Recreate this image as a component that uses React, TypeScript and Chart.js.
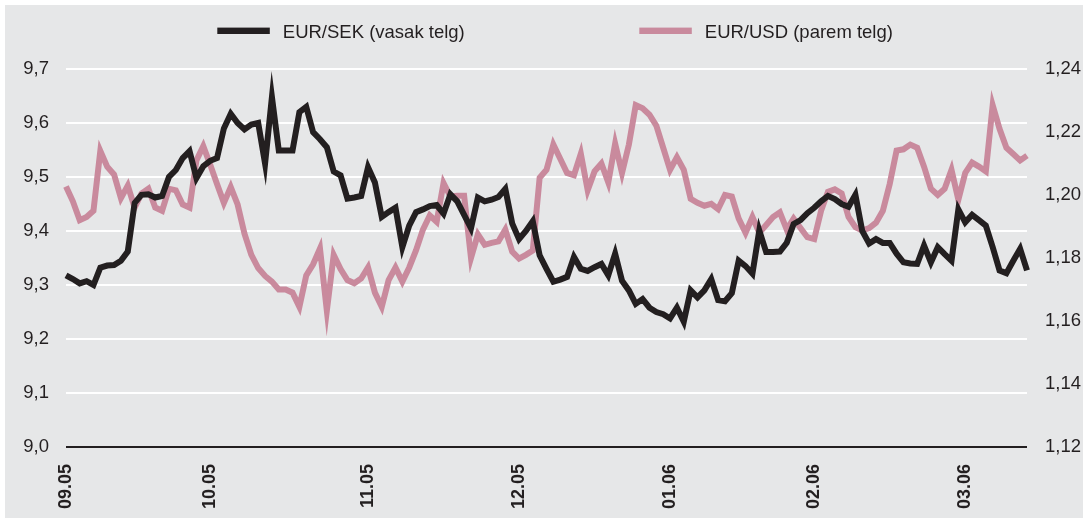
import React, { useEffect, useRef } from 'react';
import { Chart, registerables } from 'chart.js';

Chart.register(...registerables);

// ---- data ----
const monthTicks = ['09.05', '10.05', '11.05', '12.05', '01.06', '02.06', '03.06'];
const monthTickIndex = [0, 21, 44, 66, 88, 109, 131];

const eurSek = [
  9.318, 9.311, 9.303, 9.307, 9.300, 9.332, 9.336, 9.337, 9.345, 9.362,
  9.452, 9.467, 9.468, 9.462, 9.465, 9.500, 9.513, 9.535, 9.548, 9.498,
  9.520, 9.530, 9.535, 9.590, 9.617, 9.600, 9.588, 9.597, 9.600, 9.525,
  9.648, 9.549, 9.549, 9.549, 9.620, 9.630, 9.583, 9.570, 9.555, 9.510,
  9.503, 9.460, 9.462, 9.465, 9.518, 9.490, 9.426, 9.435, 9.443, 9.370,
  9.410, 9.435, 9.440, 9.446, 9.448, 9.432, 9.468, 9.455, 9.430, 9.405,
  9.462, 9.455, 9.458, 9.463, 9.478, 9.414, 9.385, 9.400, 9.418, 9.355,
  9.330, 9.306, 9.310, 9.315, 9.352, 9.330, 9.326, 9.333, 9.339, 9.318,
  9.358, 9.308, 9.290, 9.265, 9.274, 9.258, 9.250, 9.246, 9.238, 9.258,
  9.232, 9.290, 9.277, 9.290, 9.311, 9.272, 9.270, 9.285, 9.345, 9.335,
  9.321, 9.401, 9.361, 9.361, 9.362, 9.378, 9.413, 9.420, 9.433, 9.443,
  9.455, 9.465, 9.459, 9.450, 9.445, 9.467, 9.400, 9.377, 9.385, 9.378,
  9.378, 9.358, 9.342, 9.340, 9.339, 9.373, 9.342, 9.370, 9.357, 9.345,
  9.440, 9.416, 9.430, 9.420, 9.410, 9.370, 9.327, 9.322, 9.345, 9.367,
  9.327,
];

const eurUsd = [
  1.2027, 1.198, 1.192, 1.193, 1.195, 1.214, 1.209, 1.2065, 1.199, 1.203,
  1.196, 1.2005, 1.202, 1.196, 1.195, 1.202, 1.2015, 1.197, 1.196, 1.211,
  1.2155, 1.2097, 1.2035, 1.1975, 1.2025, 1.197, 1.1877, 1.181, 1.1768, 1.1743,
  1.1725, 1.170, 1.170, 1.169, 1.1645, 1.1745, 1.178, 1.183, 1.1633, 1.181,
  1.1765, 1.173, 1.172, 1.1735, 1.177, 1.169, 1.1645, 1.173, 1.177, 1.1725,
  1.177, 1.1825, 1.189, 1.1935, 1.1915, 1.2038, 1.1995, 1.1998, 1.1998, 1.180,
  1.1875, 1.1842, 1.1848, 1.1853, 1.189, 1.182, 1.1798, 1.181, 1.1824, 1.2055,
  1.208, 1.216, 1.2115, 1.207, 1.2063, 1.2131, 1.2015, 1.2075, 1.210, 1.204,
  1.2163, 1.207, 1.216, 1.2285, 1.2275, 1.2255, 1.222, 1.215, 1.208, 1.212,
  1.208, 1.1988, 1.1975, 1.1966, 1.1972, 1.1955, 1.200, 1.1995, 1.1925, 1.188,
  1.193, 1.188, 1.1905, 1.193, 1.1945, 1.189, 1.1925, 1.1895, 1.1866, 1.186,
  1.195, 1.201, 1.2018, 1.2005, 1.193, 1.1898, 1.1887, 1.1895, 1.1912, 1.195,
  1.2035, 1.2141, 1.2145, 1.216, 1.215, 1.209, 1.202, 1.200, 1.202, 1.208,
  1.1985, 1.207, 1.2103, 1.209, 1.2075, 1.2285, 1.221, 1.215, 1.213, 1.211,
  1.2125,
];

const seriesLabels = ['EUR/SEK (vasak telg)', 'EUR/USD (parem telg)'];

// ---- style ----
const FONT = "'Liberation Sans', Arial, sans-serif";
const TEXT = '#231f20';
const BLACK = '#231f20';
const PINK = '#c98a9d';
const BG = '#e6e7e8';
const W = 1078;
const H = 513;
const LEGEND_X = [212.3, 634.3];
const LEGEND_Y = 25.8;
const FS = 18.5;

const xLabels: string[] = eurSek.map(() => '');
monthTickIndex.forEach((idx, k) => {
  xLabels[idx] = monthTicks[k];
});

const legendPlugin = {
  id: 'customLegend',
  afterDraw(chart: any) {
    const ctx = chart.ctx as CanvasRenderingContext2D;
    ctx.save();
    chart.data.datasets.forEach((ds: any, i: number) => {
      const x = LEGEND_X[i];
      ctx.fillStyle = ds.borderColor;
      ctx.fillRect(x, LEGEND_Y - 3.2, 52.5, 6.4);
      ctx.fillStyle = TEXT;
      ctx.font = `${FS}px ${FONT}`;
      ctx.textBaseline = 'alphabetic';
      ctx.textAlign = 'left';
      ctx.fillText(ds.label, x + 65.5, LEGEND_Y + 7.5);
    });
    ctx.restore();
  },
};

export default function App() {
  const ref = useRef<HTMLCanvasElement | null>(null);

  useEffect(() => {
    if (!ref.current) return;
    const chart = new Chart(ref.current, {
      type: 'line',
      data: {
        labels: xLabels,
        datasets: [
          {
            label: seriesLabels[0],
            data: eurSek,
            borderColor: BLACK,
            backgroundColor: BLACK,
            borderWidth: 6,
            pointRadius: 0,
            tension: 0,
            yAxisID: 'y',
          },
          {
            label: seriesLabels[1],
            data: eurUsd,
            borderColor: PINK,
            backgroundColor: PINK,
            borderWidth: 6,
            pointRadius: 0,
            tension: 0,
            yAxisID: 'y1',
          },
        ],
      },
      options: {
        animation: false,
        responsive: false,
        devicePixelRatio: 1,
        layout: { padding: { top: 64, left: 0, right: 0, bottom: 0 } },
        plugins: {
          legend: { display: false },
          tooltip: { enabled: false },
        },
        scales: {
          x: {
            type: 'category',
            offset: false,
            grid: { display: false, drawTicks: false },
            border: { display: false },
            ticks: {
              autoSkip: false,
              minRotation: 90,
              maxRotation: 90,
              padding: 17,
              color: TEXT,
              font: { family: FONT, size: 18, weight: 'bold' },
            },
            afterFit: (s: any) => {
              s.height = 71;
            },
          },
          y: {
            position: 'left',
            min: 9.0,
            max: 9.7,
            grid: {
              color: (c: any) => (c.tick && c.tick.value <= 9.0001 ? BLACK : '#ffffff'),
              lineWidth: 2,
              drawTicks: false,
            },
            border: { display: false },
            ticks: {
              stepSize: 0.1,
              padding: 17,
              color: TEXT,
              font: { family: FONT, size: FS },
              callback: (v: any) => Number(v).toFixed(1).replace('.', ','),
            },
            afterFit: (s: any) => {
              s.width = 61;
            },
          },
          y1: {
            position: 'right',
            min: 1.12,
            max: 1.24,
            grid: { display: false, drawTicks: false },
            border: { display: false },
            ticks: {
              stepSize: 0.02,
              padding: 18,
              color: TEXT,
              font: { family: FONT, size: FS },
              callback: (v: any) => Number(v).toFixed(2).replace('.', ','),
            },
            afterFit: (s: any) => {
              s.width = 56;
            },
          },
        },
      },
      plugins: [legendPlugin],
    } as any);
    return () => chart.destroy();
  }, []);

  return (
    <div
      style={{
        position: 'absolute',
        left: 5,
        top: 5,
        width: W,
        height: H,
        background: BG,
      }}
    >
      <canvas ref={ref} width={W} height={H} style={{ display: 'block' }} />
    </div>
  );
}
